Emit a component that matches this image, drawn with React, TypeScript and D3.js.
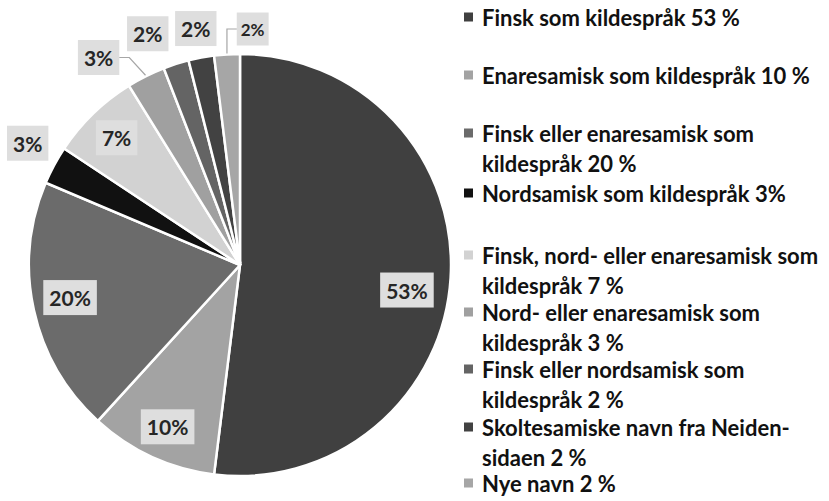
import { useEffect, useRef } from "react"
import * as d3 from "d3"

// slice values, clockwise from 12 o'clock
const values = [53, 10, 20, 3, 7, 3, 2, 2, 2]
const sliceLabels = ["53%", "10%", "20%", "3%", "7%", "3%", "2%", "2%", "2%"]
const legendLines = [
  ["Finsk som kildespråk 53 %"],
  ["Enaresamisk som kildespråk 10 %"],
  ["Finsk eller enaresamisk som", "kildespråk 20 %"],
  ["Nordsamisk som kildespråk 3%"],
  ["Finsk, nord- eller enaresamisk som", "kildespråk 7 %"],
  ["Nord- eller enaresamisk som", "kildespråk 3 %"],
  ["Finsk eller nordsamisk som", "kildespråk 2 %"],
  ["Skoltesamiske navn fra Neiden-", "sidaen 2 %"],
  ["Nye navn 2 %"],
]
const colors = ["#404040", "#a3a3a3", "#6b6b6b", "#111111", "#d2d2d2", "#a0a0a0", "#646464", "#424242", "#a6a6a6"]

// label placement: radius factor and angle shift (degrees) per slice
const labelPlace = [
  { k: 0.8, da: 5, size: 21 },
  { k: 0.84, da: -0.6, size: 21 },
  { k: 0.82, da: 1.5, size: 21 },
  { k: 1.16, da: 1.6, size: 21 },
  { k: 0.84, da: 0, size: 21 },
  { k: 1.19, da: -7.8, size: 21, leader: true },
  { k: 1.18, da: -4.1, size: 21 },
  { k: 1.14, da: 0, size: 21 },
  { k: 1.12, da: 6.6, size: 17, leader: true },
]
// legend entry first-line centre y
const legendY = [17, 75, 133, 193, 255, 312, 369, 427, 483]

const FONT = "Lato, 'Open Sans', sans-serif"

export default function App() {
  const ref = useRef<SVGSVGElement>(null)

  useEffect(() => {
    const svg = d3.select(ref.current)
    svg.selectAll("*").remove()

    const cx = 240
    const cy = 265
    const r = 211

    const pie = d3.pie<number>().sort(null).value((d) => d)
    const arcs = pie(values)
    const arc = d3.arc<d3.PieArcDatum<number>>().innerRadius(0).outerRadius(r)

    const g = svg.append("g").attr("transform", `translate(${cx},${cy})`)

    g.selectAll("path.slice")
      .data(arcs)
      .enter()
      .append("path")
      .attr("class", "slice")
      .attr("d", arc)
      .attr("fill", (d, i) => colors[i])
      .attr("stroke", "#fff")
      .attr("stroke-width", 2.5)

    // data labels
    arcs.forEach((a, i) => {
      const p = labelPlace[i]
      const mid = (a.startAngle + a.endAngle) / 2 + (p.da * Math.PI) / 180
      const lx = Math.sin(mid) * r * p.k
      const ly = -Math.cos(mid) * r * p.k

      const lg = g.append("g")
      const rect = lg.append("rect").attr("fill", "#dedede")
      const t = lg
        .append("text")
        .attr("x", lx)
        .attr("y", ly)
        .attr("text-anchor", "middle")
        .attr("dominant-baseline", "central")
        .style("font-family", FONT)
        .style("font-weight", 700)
        .style("font-size", `${p.size}px`)
        .attr("fill", "#262626")
        .text(sliceLabels[i])
      const bb = (t.node() as SVGTextElement).getBBox()
      const padX = p.size > 18 ? 6 : 4
      const h = p.size > 18 ? 35 : 33
      const bx = bb.x - padX
      const bw = bb.width + padX * 2
      const by = ly - h / 2
      rect.attr("x", bx).attr("y", by).attr("width", bw).attr("height", h)

      if (p.leader) {
        const ox = Math.sin((a.startAngle + a.endAngle) / 2) * (r + 1)
        const oy = -Math.cos((a.startAngle + a.endAngle) / 2) * (r + 1)
        const boxLeft = bx + bw < ox
        const edgeX = boxLeft ? bx + bw : bx
        const elbowX = boxLeft ? edgeX + 10 : ox
        g.append("polyline")
          .attr("points", `${ox},${oy} ${elbowX},${ly} ${edgeX},${ly}`)
          .attr("fill", "none")
          .attr("stroke", "#a6a6a6")
          .attr("stroke-width", 1.2)
      }
    })

    // legend
    const leg = svg.append("g")
    legendLines.forEach((lines, i) => {
      const y0 = legendY[i]
      leg.append("rect")
        .attr("x", 464)
        .attr("y", y0 - 4.5)
        .attr("width", 9)
        .attr("height", 9)
        .attr("fill", colors[i])
      lines.forEach((line, j) => {
        leg.append("text")
          .attr("x", 482)
          .attr("y", y0 + j * 30)
          .attr("dominant-baseline", "central")
          .style("font-family", FONT)
          .style("font-weight", 700)
          .style("font-size", "22px")
          .attr("fill", "#111")
          .text(line)
      })
    })
  }, [])

  return (
    <div style={{ position: "fixed", left: 0, top: 0, width: 829, height: 501, background: "#fff" }}>
      <svg ref={ref} width={829} height={501} />
    </div>
  )
}
